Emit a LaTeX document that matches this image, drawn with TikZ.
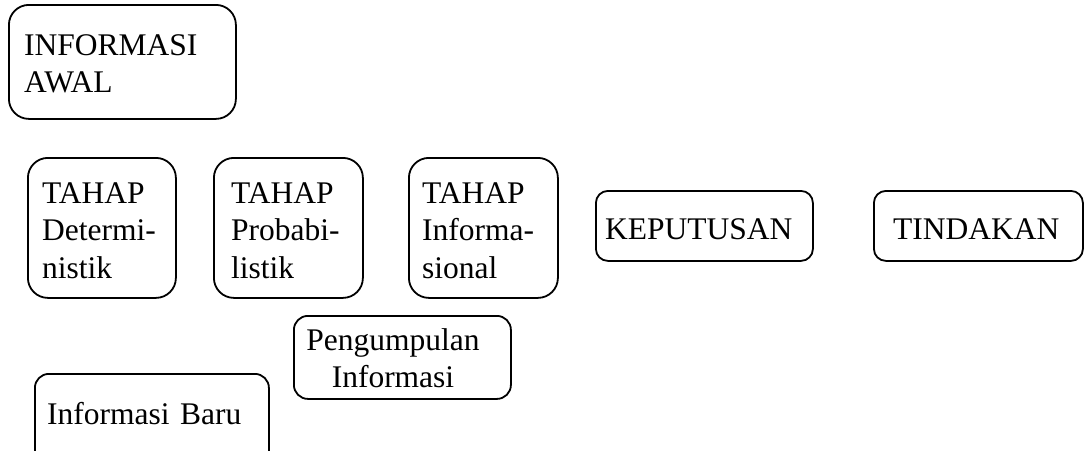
\documentclass[tikz,border=0pt]{standalone}
\usepackage{fontspec}
\setmainfont{Liberation Serif}
\begin{document}
\begin{tikzpicture}[x=1pt,y=-1pt,
  frame/.style={draw, line width=1.8pt, rounded corners=#1, inner sep=0pt,
    anchor=north west, minimum width=0pt, minimum height=0pt},
  frame/.default=20pt,
  lbl/.style={inner sep=0pt, anchor=base west, text width=260pt, align=left,
    font=\fontsize{31.5}{37.5}\selectfont},
  clbl/.style={lbl, anchor=base, align=center}
]
\useasboundingbox (0,0) rectangle (1084,450);

% rounded frames
\node[frame=20pt, minimum width=227pt, minimum height=114pt] (awal) at (8,4) {};
\node[frame=20pt, minimum width=148pt, minimum height=140pt] (det)  at (27,157) {};
\node[frame=20pt, minimum width=149pt, minimum height=140pt] (prob) at (213,157) {};
\node[frame=20pt, minimum width=149pt, minimum height=140pt] (inf)  at (408,157) {};
\node[frame=12pt, minimum width=217pt, minimum height=70pt]  (kep)  at (595,190) {};
\node[frame=12pt, minimum width=209pt, minimum height=70pt]  (tin)  at (873,190) {};
\node[frame=14pt, minimum width=217pt, minimum height=83pt]  (peng) at (293,315) {};
\node[frame=14pt, minimum width=234pt, minimum height=100pt] (baru) at (34,373) {};

% texts
\node[lbl] (awalT) at (24,55)  {INFORMASI\\AWAL};
\node[lbl] (detT)  at (42,203) {TAHAP\\Determi-\\nistik};
\node[lbl] (probT) at (231,203) {TAHAP\\Probabi-\\listik};
\node[lbl] (infT)  at (422,203) {TAHAP\\Informa-\\sional};
\node[lbl] (kepT)  at (605,239) {KEPUTUSAN};
\node[lbl] (tinT)  at (893,239) {TINDAKAN};
\node[clbl] (pengT) at (393,350) {Pengumpulan\\Informasi};
\node[lbl] (baruT) at (47,424) {Informasi Baru};
\end{tikzpicture}
\end{document}
